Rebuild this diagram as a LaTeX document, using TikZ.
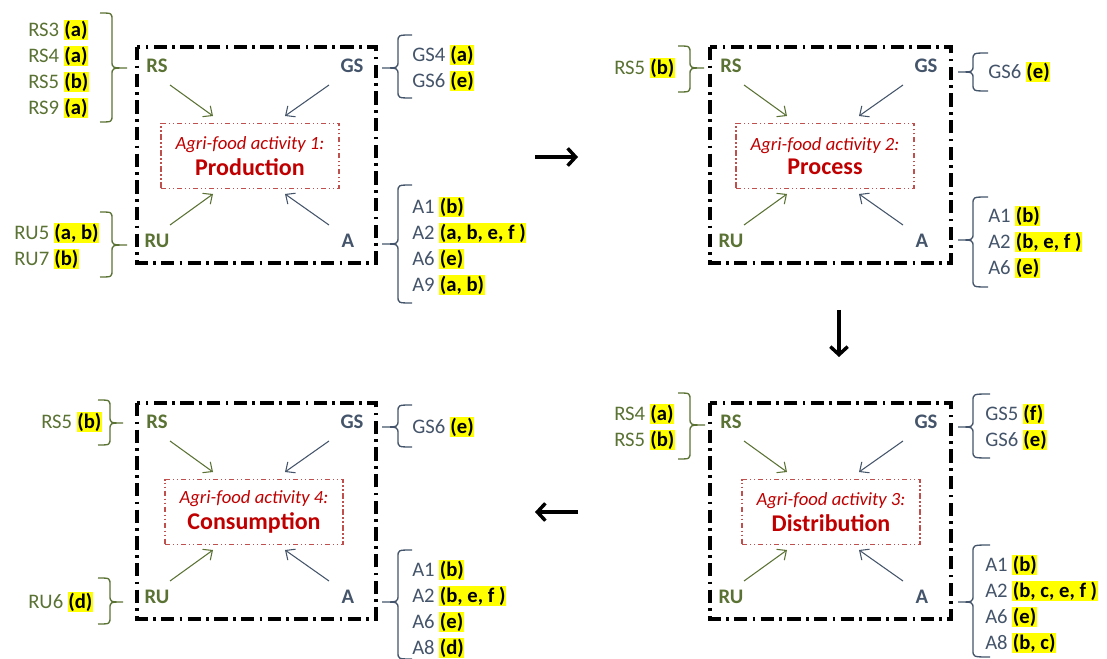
\documentclass[tikz,border=0pt]{standalone}
\usepackage{fontspec}
\setmainfont{Carlito}
\usetikzlibrary{arrows.meta}
\definecolor{gr}{HTML}{5A7233}
\definecolor{bl}{HTML}{44546A}
\definecolor{rd}{HTML}{C00000}
\definecolor{rdl}{HTML}{C0504D}
\definecolor{hly}{HTML}{FFFF00}
\newcommand\hl[1]{{\setlength\fboxsep{0.4pt}\colorbox{hly}{\textcolor{black}{\textbf{#1}}}}}
% style, x-ends, x-body, x-tip, y-top, y-bottom, y-tip
\newcommand\brc[7]{\draw[#1] (#2,#5) .. controls (#3,#5) .. (#3,{#5+7}) -- (#3,{#7-7}) .. controls (#3,#7) .. (#4,#7) .. controls (#3,#7) .. (#3,{#7+7}) -- (#3,{#6-7}) .. controls (#3,#6) .. (#2,#6);}
\tikzset{
  lst/.style={anchor=west, align=left, inner sep=0pt, font=\fontsize{15.5}{19.5}\selectfont},
  hdr/.style={inner sep=0pt, font=\fontsize{15.5}{18}\selectfont\bfseries},
  panel/.style={draw=black, line width=2.3pt, dash pattern=on 10pt off 4pt on 2pt off 4pt},
  act/.style={draw=rdl, line width=1pt, dash pattern=on 4pt off 2pt on 1pt off 2pt on 1pt off 2pt,
    minimum width=133.5pt, minimum height=48.75pt, text=rd, align=center, inner sep=0pt},
  brg/.style={draw=gr, line width=1pt},
  brb/.style={draw=bl, line width=1pt},
  arg/.style={draw=gr, line width=0.8pt, -{Straight Barb[length=5.5pt,width=10pt]}},
  arb/.style={draw=bl, line width=0.8pt, -{Straight Barb[length=5.5pt,width=10pt]}},
  big/.style={draw=black, line width=2.6pt, -{Straight Barb[length=6pt,width=13pt]}},
}
\newcommand\actxt[2]{{\fontsize{14}{16}\selectfont\itshape #1}\\[3pt]{\fontsize{18}{21}\selectfont\bfseries #2}}
\begin{document}
\begin{tikzpicture}[x=0.75pt,y=-0.75pt]
\useasboundingbox (0,0) rectangle (1107,659);

% ---------- Panel 1 ----------
\draw[panel] (137,47) rectangle (376,263);
\node[hdr,text=gr] (rs1) at (157,66) {RS};
\node[hdr,text=bl] (gs1) at (352,66) {GS};
\node[hdr,text=gr] (ru1) at (157,241) {RU};
\node[hdr,text=bl] (a1) at (348,241) {A};
\node[act] (act1) at (250,156) {\actxt{Agri-food activity 1:}{Production}};
\draw[arg] ([shift={(13,19)}]rs1.center) -- ++(43,31);
\draw[arb] ([shift={(-23,19)}]gs1.center) -- ++(-44,31);
\draw[arg] ([shift={(13,-16)}]ru1.center) -- ++(43,-31);
\draw[arb] ([shift={(-19,-16)}]a1.center) -- ++(-44,-31);
\node[lst,text=gr] (lrs1) at (28,69) {RS3 \hl{(a)}\\RS4 \hl{(a)}\\RS5 \hl{(b)}\\RS9 \hl{(a)}};
\node[lst,text=gr] (lru1) at (14,246) {RU5 \hl{(a, b)}\\RU7 \hl{(b)}};
\node[lst,text=bl] (lgs1) at (412,68) {GS4 \hl{(a)}\\GS6 \hl{(e)}};
\node[lst,text=bl] (la1) at (412,246) {A1 \hl{(b)}\\A2 \hl{(a, b, e, f )}\\A6 \hl{(e)}\\A9 \hl{(a, b)}};
\brc{brg}{100}{112}{127}{13}{122}{68}
\brc{brg}{100}{112}{127}{212}{277}{245}
\brc{brb}{412}{398}{382}{35}{98}{68}
\brc{brb}{412}{398}{382}{185}{303}{244}

% ---------- Panel 2 ----------
\draw[panel] (710,47) rectangle (951,263);
\node[hdr,text=gr] (rs2) at (731,66) {RS};
\node[hdr,text=bl] (gs2) at (926,66) {GS};
\node[hdr,text=gr] (ru2) at (731,241) {RU};
\node[hdr,text=bl] (a2) at (922,241) {A};
\node[act] (act2) at (825,156) {\actxt{Agri-food activity 2:}{Process}};
\draw[arg] ([shift={(13,19)}]rs2.center) -- ++(43,31);
\draw[arb] ([shift={(-23,19)}]gs2.center) -- ++(-44,31);
\draw[arg] ([shift={(13,-16)}]ru2.center) -- ++(43,-31);
\draw[arb] ([shift={(-19,-16)}]a2.center) -- ++(-44,-31);
\node[lst,text=gr] (lrs2) at (614,68) {RS5 \hl{(b)}};
\node[lst,text=bl] (lgs2) at (988,72) {GS6 \hl{(e)}};
\node[lst,text=bl] (la2) at (988,242) {A1 \hl{(b)}\\A2 \hl{(b, e, f )}\\A6 \hl{(e)}};
\brc{brg}{678}{690}{704}{46}{92}{68}
\brc{brb}{988}{973}{958}{53}{91}{72}
\brc{brb}{988}{973}{958}{197}{287}{240}

% ---------- Panel 3 (Consumption) ----------
\draw[panel] (137,403) rectangle (376,619);
\node[hdr,text=gr] (rs3) at (157,422) {RS};
\node[hdr,text=bl] (gs3) at (352,422) {GS};
\node[hdr,text=gr] (ru3) at (157,597) {RU};
\node[hdr,text=bl] (a3) at (348,597) {A};
\node[act] (act3) at (254,512) {\actxt{Agri-food activity 4:}{Consumption}};
\draw[arg] ([shift={(13,19)}]rs3.center) -- ++(43,31);
\draw[arb] ([shift={(-23,19)}]gs3.center) -- ++(-44,31);
\draw[arg] ([shift={(13,-16)}]ru3.center) -- ++(43,-31);
\draw[arb] ([shift={(-19,-16)}]a3.center) -- ++(-44,-31);
\node[lst,text=gr] (lrs3) at (41,422) {RS5 \hl{(b)}};
\node[lst,text=gr] (lru3) at (28,602) {RU6 \hl{(d)}};
\node[lst,text=bl] (lgs3) at (412,427) {GS6 \hl{(e)}};
\node[lst,text=bl] (la3) at (412,609) {A1 \hl{(b)}\\A2 \hl{(b, e, f )}\\A6 \hl{(e)}\\A8 \hl{(d)}};
\brc{brg}{98}{110}{123}{400}{445}{423}
\brc{brg}{98}{110}{123}{578}{624}{602}
\brc{brb}{412}{398}{382}{405}{447}{427}
\brc{brb}{412}{398}{382}{550}{659}{602}

% ---------- Panel 4 (Distribution) ----------
\draw[panel] (710,403) rectangle (951,619);
\node[hdr,text=gr] (rs4) at (731,422) {RS};
\node[hdr,text=bl] (gs4) at (926,422) {GS};
\node[hdr,text=gr] (ru4) at (731,597) {RU};
\node[hdr,text=bl] (a4) at (922,597) {A};
\node[act] (act4) at (831,512) {\actxt{Agri-food activity 3:}{Distribution}};
\draw[arg] ([shift={(13,19)}]rs4.center) -- ++(43,31);
\draw[arb] ([shift={(-23,19)}]gs4.center) -- ++(-44,31);
\draw[arg] ([shift={(13,-16)}]ru4.center) -- ++(43,-31);
\draw[arb] ([shift={(-19,-16)}]a4.center) -- ++(-44,-31);
\node[lst,text=gr] (lrs4) at (614,427) {RS4 \hl{(a)}\\RS5 \hl{(b)}};
\node[lst,text=bl] (lgs4) at (985,427) {GS5 \hl{(f)}\\GS6 \hl{(e)}};
\node[lst,text=bl] (la4) at (985,604) {A1 \hl{(b)}\\A2 \hl{(b, c, e, f )}\\A6 \hl{(e)}\\A8 \hl{(b, c)}};
\brc{brg}{678}{690}{705}{393}{459}{425}
\brc{brb}{990}{973}{958}{394}{458}{427}
\brc{brb}{990}{973}{958}{545}{657}{602}

% ---------- flow arrows ----------
\coordinate (f1s) at (535,157); \coordinate (f1e) at (578,157);
\coordinate (f2s) at (839,310); \coordinate (f2e) at (839,357);
\coordinate (f3s) at (578,512); \coordinate (f3e) at (535,512);
\draw[big] (f1s) -- (f1e);
\draw[big] (f2s) -- (f2e);
\draw[big] (f3s) -- (f3e);
\end{tikzpicture}
\end{document}
